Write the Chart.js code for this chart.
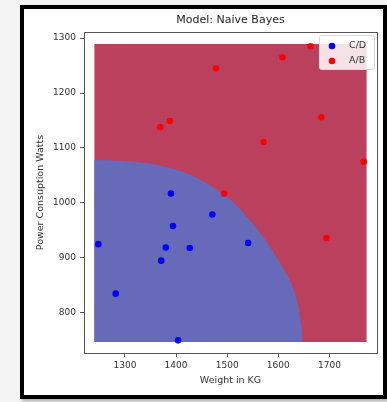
<!DOCTYPE html>
<html>
<head>
<meta charset="utf-8">
<script src="https://cdn.jsdelivr.net/npm/chart.js@4.4.0/dist/chart.umd.min.js"></script>
<style>
    body { margin: 0; background: #f3f3f3; }
    #frame {
        position: absolute; left: 20px; top: 5px;
        width: 367px; height: 394px;
        box-sizing: border-box;
        border: 4px solid #000;
        background: #fff;
        box-shadow: 2px 2px 3px rgba(0,0,0,0.3);
    }
    #chart { position: absolute; left: 0; top: 0; }
</style>
</head>
<body>
<div id="frame"></div>
<canvas id="chart" width="387" height="402"></canvas>
<script>
// Scatter data (Weight in KG, Power Consuption Watts)
const cdWeight = [1248, 1282, 1404, 1390, 1394, 1471, 1380, 1427, 1371, 1541];
const cdPower  = [925, 835, 750, 1017, 958, 979, 919, 918, 895, 927];
const abWeight = [1478, 1608, 1663, 1684, 1388, 1369, 1571, 1767, 1494, 1694];
const abPower  = [1245, 1265, 1285, 1156, 1149, 1138, 1111, 1075, 1017, 936];

// Decision region: mesh extent and the C/D boundary
const meshWeight = [1240, 1773];
const meshPower  = [747, 1289];
const boundaryWeight = [1240, 1280, 1320, 1360, 1400, 1440, 1480, 1510, 1540, 1565, 1585, 1600, 1612, 1624, 1632, 1639, 1643, 1646, 1647];
const boundaryPower  = [1078, 1077, 1075, 1070, 1061, 1046, 1024, 1003, 973, 945, 919, 896, 876, 856, 836, 812, 790, 768, 747];

const xTicks = [1300, 1400, 1500, 1600, 1700];
const yTicks = [800, 900, 1000, 1100, 1200, 1300];

const zip = (xs, ys) => xs.map((x, i) => ({ x: x, y: ys[i] }));

// axes box on all four sides, like matplotlib spines
const spines = {
    id: 'spines',
    afterDatasetsDraw(chart) {
        const a = chart.chartArea;
        const ctx = chart.ctx;
        ctx.save();
        ctx.strokeStyle = '#555';
        ctx.lineWidth = 1;
        ctx.strokeRect(Math.round(a.left) + 0.5, Math.round(a.top) + 0.5,
            Math.round(a.right - a.left), Math.round(a.bottom - a.top));
        ctx.restore();
    }
};

// legend box in the top right corner of the axes
const boxLegend = {
    id: 'boxLegend',
    afterDraw(chart) {
        const ctx = chart.ctx;
        const items = chart.data.datasets.filter(d => d.type === 'scatter');
        const left = 319, top = 35, w = 55, h = 34;
        ctx.save();
        ctx.fillStyle = 'rgba(255,255,255,0.85)';
        ctx.strokeStyle = '#d8d8d8';
        ctx.lineWidth = 1;
        ctx.beginPath();
        ctx.roundRect(left + 0.5, top + 0.5, w, h, 2);
        ctx.fill();
        ctx.stroke();
        ctx.font = '9.5px "DejaVu Sans"';
        ctx.textBaseline = 'middle';
        items.forEach((d, i) => {
            const y = top + 11 + i * 15;
            ctx.fillStyle = d.backgroundColor;
            ctx.beginPath();
            ctx.arc(332, y, 3.3, 0, Math.PI * 2);
            ctx.fill();
            ctx.fillStyle = '#333';
            ctx.fillText(d.label, 349, y);
        });
        ctx.restore();
    }
};

const plainNumber = v => String(v);

const ctx = document.getElementById('chart').getContext('2d');
new Chart(ctx, {
    type: 'scatter',
    data: {
        datasets: [
            {
                type: 'scatter',
                label: 'C/D',
                data: zip(cdWeight, cdPower),
                backgroundColor: '#0000ff',
                pointRadius: 3.3,
                borderWidth: 0,
                order: 1
            },
            {
                type: 'scatter',
                label: 'A/B',
                data: zip(abWeight, abPower),
                backgroundColor: '#ff0000',
                pointRadius: 3.3,
                borderWidth: 0,
                order: 0
            },
            {
                type: 'line',
                label: 'region C/D',
                data: zip(boundaryWeight, boundaryPower),
                borderWidth: 0,
                pointRadius: 0,
                cubicInterpolationMode: 'monotone',
                fill: { value: meshPower[0] },
                backgroundColor: 'rgb(102,106,184)',
                order: 2
            },
            {
                type: 'line',
                label: 'region A/B',
                data: zip(meshWeight, [meshPower[1], meshPower[1]]),
                borderWidth: 0,
                pointRadius: 0,
                fill: { value: meshPower[0] },
                backgroundColor: 'rgb(187,64,94)',
                order: 3
            }
        ]
    },
    options: {
        responsive: false,
        animation: false,
        events: [],
        layout: { padding: { left: 35, right: 10, top: 14, bottom: 16 } },
        plugins: {
            legend: { display: false },
            tooltip: { enabled: false },
            title: {
                display: true,
                text: 'Model: Naive Bayes',
                fullSize: false,
                color: '#222',
                font: { family: 'DejaVu Sans', size: 11, weight: 'normal', lineHeight: 1.2 },
                padding: { top: 0, bottom: 4.8 }
            }
        },
        scales: {
            x: {
                type: 'linear',
                min: 1220,
                max: 1793,
                afterBuildTicks: s => { s.ticks = xTicks.map(v => ({ value: v })); },
                afterFit: s => { s.height = 33; },
                grid: { drawOnChartArea: false, tickLength: 4, color: '#555' },
                border: { display: true, color: '#555' },
                ticks: { color: '#333', padding: 3, callback: plainNumber, font: { family: 'DejaVu Sans', size: 9 } },
                title: {
                    display: true,
                    text: 'Weight in KG',
                    color: '#333',
                    padding: 0,
                    font: { family: 'DejaVu Sans', size: 9.5 }
                }
            },
            y: {
                type: 'linear',
                min: 727,
                max: 1311,
                afterBuildTicks: s => { s.ticks = yTicks.map(v => ({ value: v })); },
                afterFit: s => { s.width = 49; },
                grid: { drawOnChartArea: false, tickLength: 4, color: '#555' },
                border: { display: true, color: '#555' },
                ticks: { color: '#333', padding: 4, callback: plainNumber, font: { family: 'DejaVu Sans', size: 9 } },
                title: {
                    display: true,
                    text: 'Power Consuption Watts',
                    color: '#333',
                    padding: 0,
                    font: { family: 'DejaVu Sans', size: 9.5 }
                }
            }
        }
    },
    plugins: [spines, boxLegend]
});
</script>
</body>
</html>
